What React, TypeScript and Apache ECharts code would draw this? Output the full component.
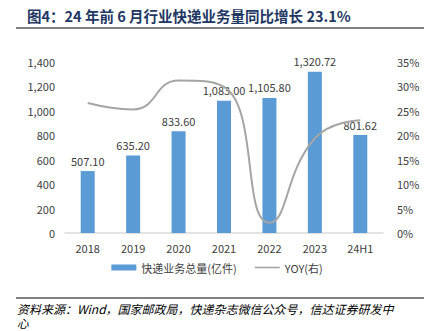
import React, { useEffect, useRef } from "react";
import * as echarts from "echarts";

const categories = ["2018", "2019", "2020", "2021", "2022", "2023", "24H1"];
const volume = [507.1, 635.2, 833.6, 1083.0, 1105.8, 1320.72, 801.62];
const yoy = [0.266, 0.253, 0.312, 0.299, 0.021, 0.194, 0.231];

const fmt = (v: number) =>
  v.toLocaleString("en-US", { minimumFractionDigits: 2, maximumFractionDigits: 2 });

export default function App() {
  const ref = useRef<HTMLDivElement>(null);
  useEffect(() => {
    const chart = echarts.init(ref.current!, null, { renderer: "svg" });
    chart.setOption({
      animation: false,
      backgroundColor: "#fff",
      textStyle: { fontFamily: "Noto Sans CJK SC" },
      grid: { left: 65, right: 51, top: 62, bottom: 98 },
      legend: {
        top: 257,
        left: "center",
        itemGap: 18,
        itemWidth: 25,
        itemHeight: 6,
        textStyle: { color: "#404040", fontSize: 11, fontFamily: "Noto Sans CJK SC" },
        data: [
          { name: "快递业务总量(亿件)", icon: "rect" },
          { name: "YOY(右)", icon: "path://M0,0 L25,0 L25,1.6 L0,1.6 Z" },
        ],
      },
      xAxis: {
        type: "category",
        data: categories,
        axisLine: { lineStyle: { color: "#D9D9D9", width: 1.5 } },
        axisTick: { show: false },
        axisLabel: { color: "#404040", fontSize: 11, margin: 9 },
      },
      yAxis: [
        {
          type: "value",
          min: 0,
          max: 1400,
          interval: 200,
          splitLine: { show: false },
          axisLine: { show: false },
          axisTick: { show: false },
          axisLabel: {
            color: "#404040",
            fontSize: 11,
            margin: 10,
            formatter: (v: number) => v.toLocaleString("en-US"),
          },
        },
        {
          type: "value",
          min: 0,
          max: 0.35,
          interval: 0.05,
          splitLine: { show: false },
          axisLine: { show: false },
          axisTick: { show: false },
          axisLabel: {
            color: "#404040",
            fontSize: 11,
            margin: 14,
            formatter: (v: number) => Math.round(v * 100) + "%",
          },
        },
      ],
      series: [
        {
          name: "快递业务总量(亿件)",
          type: "bar",
          data: volume,
          barWidth: 14,
          itemStyle: { color: "#5B9BD5" },
          label: {
            show: true,
            position: "top",
            color: "#404040",
            fontSize: 11,
            distance: 5,
            formatter: (p: any) => fmt(p.value),
          },
          z: 1,
        },
        {
          name: "YOY(右)",
          type: "line",
          yAxisIndex: 1,
          data: yoy,
          smooth: 0.5,
          symbol: "none",
          lineStyle: { color: "#A5A5A5", width: 2 },
          itemStyle: { color: "#A5A5A5" },
          z: 3,
        },
      ],
      graphic: [
        {
          type: "text",
          left: 27,
          top: 8,
          style: {
            text: "图4：24 年前 6 月行业快递业务量同比增长 23.1%",
            fontSize: 14.5,
            fontWeight: "bold",
            fill: "#1F3864",
            fontFamily: "Noto Sans CJK SC",
          },
        },
        {
          type: "line",
          shape: { x1: 16, y1: 28, x2: 424, y2: 28 },
          style: { stroke: "#595959", lineWidth: 1.5 },
        },
        {
          type: "line",
          shape: { x1: 16, y1: 298, x2: 424, y2: 298 },
          style: { stroke: "#595959", lineWidth: 1.5 },
        },
        {
          type: "text",
          left: 17,
          top: 302,
          style: {
            text: "资料来源：Wind，国家邮政局，快递杂志微信公众号，信达证券研发中",
            fontSize: 12,
            fontStyle: "italic",
            fill: "#000",
            fontFamily: "Noto Sans CJK SC",
          },
        },
        {
          type: "text",
          left: 17,
          top: 317,
          style: {
            text: "心",
            fontSize: 11.5,
            fontStyle: "italic",
            fill: "#000",
            fontFamily: "Noto Sans CJK SC",
          },
        },
      ],
    });
    return () => chart.dispose();
  }, []);
  return <div ref={ref} style={{ width: 434, height: 331, position: "absolute", left: 0, top: 0 }} />;
}
